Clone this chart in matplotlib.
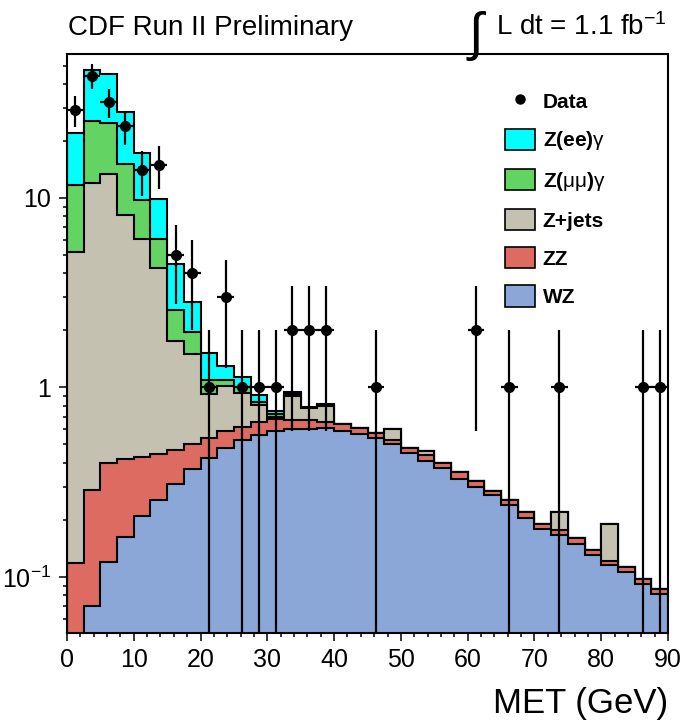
import numpy as np
import matplotlib
matplotlib.use("Agg")
from matplotlib import pyplot as plt
from matplotlib.patches import Patch
from matplotlib.lines import Line2D
from matplotlib.ticker import FixedLocator, LogLocator, NullFormatter, MultipleLocator

plt.rcParams['font.family'] = ['Liberation Sans', 'DejaVu Sans']
plt.rcParams['mathtext.fontset'] = 'custom'
plt.rcParams['mathtext.rm'] = 'Liberation Sans'
plt.rcParams['mathtext.it'] = 'Liberation Sans:italic'
plt.rcParams['mathtext.bf'] = 'Liberation Sans:bold'

# MET bins, 2.5 GeV wide, 0-90 GeV
edges = np.linspace(0, 90, 37)

# expected events per bin for each process (bottom of stack first)
wz = [0.02, 0.070, 0.12, 0.163, 0.21, 0.254, 0.31, 0.37, 0.425, 0.48, 0.53, 0.56,
      0.59, 0.60, 0.60, 0.61, 0.59, 0.57, 0.54, 0.50, 0.45, 0.41, 0.375, 0.33,
      0.30, 0.27, 0.24, 0.205, 0.18, 0.167, 0.15, 0.13, 0.115, 0.106, 0.092, 0.081]
zz = [0.099, 0.218, 0.28, 0.257, 0.22, 0.191, 0.16, 0.13, 0.115, 0.11, 0.09, 0.10,
      0.09, 0.07, 0.07, 0.05, 0.05, 0.04, 0.035, 0.03, 0.03, 0.03, 0.025, 0.03,
      0.02, 0.015, 0.015, 0.015, 0.01, 0.01, 0.01, 0.008, 0.006, 0.007, 0.005, 0.005]
zjets = [5.08, 11.7, 12.9, 7.73, 5.67, 3.8, 1.28, 1.01, 0.38, 0.43, 0.32, 0.15,
         0.02, 0.23, 0.11, 0.14, 0, 0, 0, 0.07, 0, 0.02, 0, 0,
         0, 0, 0, 0, 0, 0.043, 0, 0, 0.07, 0, 0, 0]
zmm = [6.5, 13.4, 11.5, 6.95, 3.6, 1.86, 0.81, 0.45, 0.18, 0.08, 0.06, 0.03,
       0.02, 0.02, 0, 0.01, 0, 0, 0, 0, 0, 0, 0, 0,
       0, 0, 0, 0, 0, 0, 0, 0, 0, 0, 0, 0]
zee = [10.3, 21.9, 20.2, 13.4, 7.6, 3.75, 1.9, 0.87, 0.42, 0.2, 0.13, 0.07,
       0.03, 0.03, 0.01, 0.01, 0, 0, 0, 0, 0, 0, 0, 0,
       0, 0, 0, 0, 0, 0, 0, 0, 0, 0, 0, 0]

data = [29, 44, 32, 24, 14, 15, 5, 4, 1, 3, 1, 1,
        1, 2, 2, 2, 0, 0, 1, 0, 0, 0, 0, 0,
        2, 0, 1, 0, 0, 1, 0, 0, 0, 0, 1, 1]

names = ["WZ", "ZZ", "Z+jets", r"Z($\mathrm{\mu\mu}$)$\mathrm{\gamma}$",
         r"Z(ee)$\mathrm{\gamma}$"]
colors = ["#8ba7d8", "#dd6b62", "#c5c1b0", "#63d363", "#00ffff"]

fig = plt.figure(figsize=(6.88, 7.26), dpi=100)
ax = fig.add_axes([67/688, 1-633/726, 601/688, 579/726])

stack = np.cumsum([wz, zz, zjets, zmm, zee], axis=0)
for top, c in reversed(list(zip(stack, colors))):
    ax.stairs(top, edges, baseline=1e-3, fill=True, facecolor=c,
              edgecolor="black", linewidth=1.5)

centers = 0.5 * (edges[1:] + edges[:-1])
d = np.array(data, dtype=float)
m = d > 0
lo = np.minimum(np.sqrt(d[m]), d[m] - 1e-4)
ax.errorbar(centers[m], d[m], yerr=[lo, np.sqrt(d[m])], xerr=1.25, fmt="o",
            color="black", ms=7, elinewidth=1.6, capsize=0, zorder=5)

ax.set_yscale("log")
ax.set_xlim(0, 90)
ax.set_ylim(0.0506, 57.5)

ax.xaxis.set_major_locator(MultipleLocator(10))
ax.xaxis.set_minor_locator(MultipleLocator(2))
ax.yaxis.set_major_locator(FixedLocator([0.1, 1, 10]))
ax.yaxis.set_minor_locator(LogLocator(base=10, subs=np.arange(2, 10)))
ax.yaxis.set_minor_formatter(NullFormatter())
ax.set_yticklabels(["10$^{-1}$", "1", "10"])
ax.tick_params(which="both", direction="out", width=1.1, labelsize=18)
ax.tick_params(which="major", length=5.5)
ax.tick_params(which="minor", length=3)
ax.tick_params(axis="x", pad=5)
ax.tick_params(axis="y", pad=6)
for s in ax.spines.values():
    s.set_linewidth(1.5)

handles = [Line2D([], [], marker="o", ls="none", color="black", ms=6.5)]
for c in reversed(colors):
    handles.append(Patch(facecolor=c, edgecolor="black", linewidth=1.2))
labels = ["Data"] + list(reversed(names))
ax.legend(handles, labels, loc="upper left", bbox_to_anchor=(0.729, 0.937),
          frameon=False, borderpad=0, borderaxespad=0, handlelength=1.45,
          handleheight=1.2, handletextpad=0.35, labelspacing=0.79,
          prop={"size": 15, "weight": "bold"})

fig.text(68/688, 1-35/726, "CDF Run II Preliminary", fontsize=20, va="baseline")
fig.text(476/688, 1-50/726, "\u222b", fontsize=38, va="baseline", ha="center")
fig.text(667/688, 1-35/726, r"L dt = 1.1 fb$^{-1}$", fontsize=20,
         va="baseline", ha="right")
fig.text(668/688, 1-713/726, "MET (GeV)", fontsize=25, va="baseline", ha="right")

fig.savefig("out.png", dpi=100)
